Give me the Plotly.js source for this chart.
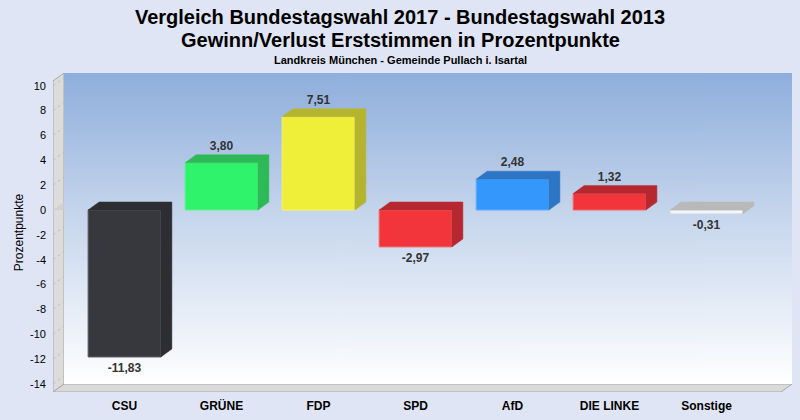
<!DOCTYPE html>
<html>
<head>
<meta charset="utf-8">
<script src="https://cdn.plot.ly/plotly-3.0.1.min.js"></script>
<style>
  html, body { margin: 0; padding: 0; background: #dfe5f4; }
  #chart { width: 800px; height: 420px; }
</style>
</head>
<body>
<div id="chart"></div>
<script>
// ── data ────────────────────────────────────────────────────────────
const categories = ['CSU', 'GRÜNE', 'FDP', 'SPD', 'AfD', 'DIE LINKE', 'Sonstige'];
const changes    = [-11.83, 3.80, 7.51, -2.97, 2.48, 1.32, -0.31];
const frontColors = ['#36383d', '#2ef36b', '#efef3a', '#f2343b', '#3397fb', '#f2343b', '#f3f6fb'];
const shadeColors = ['#2c2e32', '#2dba56', '#b4b42f', '#b6282f', '#2d76c4', '#b6282f', '#b9b9b9'];
const edgeColors  = ['#5c5e63', '#5ef58f', '#f3f36a', '#f36a70', '#66b1fc', '#f36a70', '#d8dce4'];
const yTicks = [-14, -12, -10, -8, -6, -4, -2, 0, 2, 4, 6, 8, 10];

// ── geometry of the fake 3D box ─────────────────────────────────────
const W = 800, H = 420;
const M = { l: 53, r: 8, t: 73, b: 28 };
const xRange = [-0.737, 6.881];
const yRange = [-14.65, 11.03];
const plotW = W - M.l - M.r, plotH = H - M.t - M.b;
const pxY = (yRange[1] - yRange[0]) / plotH;       // axis units per pixel
const dx = 11 * (xRange[1] - xRange[0]) / plotW;   // depth, in axis units
const dy = 8 * pxY;
const barW = 0.75;
const x0 = xRange[0], x1 = xRange[1], yb = yRange[0], yt = yRange[1];

function fmt(v) { return v.toFixed(2).replace('.', ','); }
// pixel row (from top of page) -> paper y
function paperY(py) { return (H - M.b - py) / plotH; }

function backGradient() {
    const c = document.createElement('canvas');
    c.width = 4; c.height = 400;
    const g = c.getContext('2d');
    const grd = g.createLinearGradient(0, 0, 0, 400);
    grd.addColorStop(0, '#8eaedc');
    grd.addColorStop(0.45, '#c5d5ec');
    grd.addColorStop(1, '#ffffff');
    g.fillStyle = grd;
    g.fillRect(0, 0, 4, 400);
    return c.toDataURL();
}

function poly(xs, ys) {
    return 'M' + xs.map((x, i) => x + ',' + ys[i]).join('L') + 'Z';
}

// ── walls, floor, grid ──────────────────────────────────────────────
const shapes = [];
// left wall
shapes.push({ type: 'path', xref: 'x', yref: 'y', layer: 'below',
    path: poly([x0, x0 + dx, x0 + dx, x0], [yb, yb + dy, yt, yt - dy]),
    fillcolor: '#dcdcdc', line: { color: '#a8a8a8', width: 1 } });
// floor
shapes.push({ type: 'path', xref: 'x', yref: 'y', layer: 'below',
    path: poly([x0, x1 - dx, x1, x0 + dx], [yb, yb, yb + dy, yb + dy]),
    fillcolor: '#dadada', line: { color: '#a8a8a8', width: 1 } });
// back plane border
shapes.push({ type: 'path', xref: 'x', yref: 'y', layer: 'below',
    path: 'M' + (x0 + dx) + ',' + yt + 'L' + x1 + ',' + yt + 'L' + x1 + ',' + (yb + dy),
    line: { color: '#a8a8a8', width: 1 } });
// grid lines on back plane + slanted ticks on the wall
yTicks.forEach(v => {
    if (v === 0) return;
    shapes.push({ type: 'line', xref: 'x', yref: 'y', layer: 'below',
        x0: x0 + dx, x1: x1, y0: v + dy, y1: v + dy,
        line: { color: 'rgba(190,190,195,0.8)', width: 1, dash: 'dash' } });
    shapes.push({ type: 'line', xref: 'x', yref: 'y', layer: 'below',
        x0: x0, x1: x0 + dx, y0: v, y1: v + dy,
        line: { color: 'rgba(185,185,185,0.9)', width: 1, dash: 'dot' } });
});
// zero plane
shapes.push({ type: 'path', xref: 'x', yref: 'y', layer: 'below',
    path: poly([x0, x1 - dx, x1, x0 + dx], [0, 0, dy, dy]),
    fillcolor: 'rgba(205,205,208,0.8)', line: { width: 0 } });

// ── traces ──────────────────────────────────────────────────────────
const idx = categories.map((_, i) => i);
const traces = [{
    type: 'bar', x: idx, y: changes, width: barW,
    marker: { color: frontColors, line: { color: edgeColors, width: 1 } },
    hoverinfo: 'none'
}];

changes.forEach((v, i) => {
    const top = Math.max(0, v), bot = Math.min(0, v);
    const a = i - barW / 2, b = i + barW / 2;
    traces.push({
        type: 'scatter', mode: 'lines', fill: 'toself',
        x: [a, b, b, b + dx, b + dx, a + dx, a],
        y: [top, top, bot, bot + dy, top + dy, top + dy, top],
        fillcolor: shadeColors[i],
        line: { color: shadeColors[i], width: 0.5 },
        hoverinfo: 'none'
    });
});

traces.push({
    type: 'scatter', mode: 'text',
    x: idx,
    y: changes.map(v => v >= 0 ? v + dy + 2 * pxY : v - 6 * pxY),
    text: changes.map(fmt),
    textposition: changes.map(v => v >= 0 ? 'top center' : 'bottom center'),
    textfont: { family: 'Liberation Sans, Arial, sans-serif', size: 12, color: '#333333', weight: 'bold' },
    hoverinfo: 'none'
});

const centerX = 0.5 - (M.l - M.r) / 2 / plotW;   // page centre in paper units

const layout = {
    width: W, height: H, autosize: false,
    margin: M,
    paper_bgcolor: '#dfe5f4',
    plot_bgcolor: 'rgba(0,0,0,0)',
    showlegend: false,
    bargap: 0,
    font: { family: 'Liberation Sans, Arial, sans-serif', color: '#000' },
    title: {
        text: 'Vergleich Bundestagswahl 2017 - Bundestagswahl 2013',
        font: { size: 20, weight: 'bold', color: '#000' },
        x: 0.5, xanchor: 'center', y: 1 - 17 / H, yanchor: 'middle'
    },
    annotations: [{
        text: 'Gewinn/Verlust Erststimmen in Prozentpunkte',
        xref: 'paper', yref: 'paper', x: centerX, y: paperY(40),
        xanchor: 'center', yanchor: 'middle', showarrow: false,
        font: { size: 20, weight: 'bold', color: '#000' }
    }, {
        text: 'Landkreis München - Gemeinde Pullach i. Isartal',
        xref: 'paper', yref: 'paper', x: centerX, y: paperY(60),
        xanchor: 'center', yanchor: 'middle', showarrow: false,
        font: { size: 11, weight: 'bold', color: '#000' }
    }],
    xaxis: {
        range: xRange, showgrid: false, zeroline: false, showline: false,
        tickvals: idx, ticktext: categories, ticks: '',
        ticklabelstandoff: 5,
        tickfont: { size: 12, weight: 'bold', color: '#000' },
        fixedrange: true
    },
    yaxis: {
        range: yRange, showgrid: false, zeroline: false, showline: false,
        tickvals: yTicks, ticktext: yTicks.map(String), ticks: '',
        ticklabelstandoff: 6,
        tickfont: { size: 11, color: '#000' },
        title: { text: 'Prozentpunkte', font: { size: 12, color: '#000' }, standoff: 3 },
        fixedrange: true
    },
    shapes: shapes,
    images: [{
        source: backGradient(), xref: 'x', yref: 'y',
        x: x0 + dx, y: yt, sizex: x1 - x0 - dx, sizey: yt - yb - dy,
        sizing: 'stretch', layer: 'below', xanchor: 'left', yanchor: 'top'
    }]
};

Plotly.newPlot('chart', traces, layout, { staticPlot: true, displayModeBar: false });
</script>
</body>
</html>
